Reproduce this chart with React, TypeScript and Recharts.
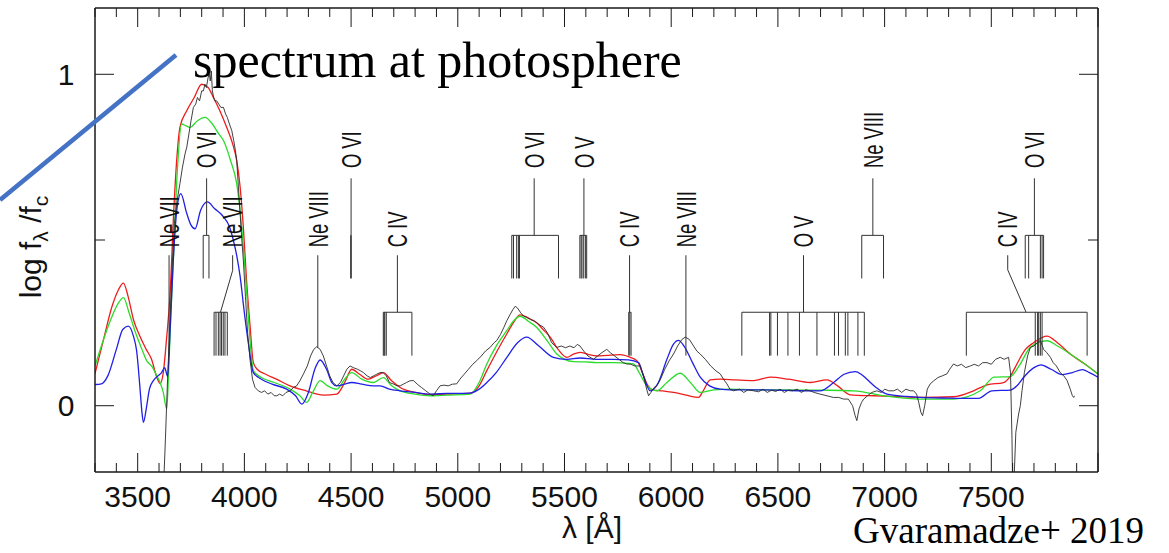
import React from 'react';
import { LineChart, Line, XAxis, YAxis, ReferenceLine, ReferenceDot } from 'recharts';

// ---------- data (wavelength [A], log f_lambda/f_c) ----------
const observed: number[][] = [
  [3618, -0.3], [3630, -0.1], [3640, 0.08], [3648, 0.2], [3660, 0.4], [3672, 0.55], [3685, 0.62], [3698, 0.67],
  [3710, 0.72], [3722, 0.76], [3730, 0.78], [3740, 0.82], [3750, 0.86], [3761, 0.9], [3772, 0.91], [3780, 0.93],
  [3790, 0.92], [3800, 0.95], [3808, 0.95], [3815, 0.97], [3822, 0.96], [3830, 0.99], [3836, 1.0], [3840, 0.98],
  [3845, 1.01], [3850, 0.95], [3856, 0.93], [3862, 0.92], [3870, 0.92], [3880, 0.91], [3890, 0.9], [3902, 0.9],
  [3912, 0.88], [3920, 0.87], [3930, 0.85], [3941, 0.83], [3950, 0.8], [3958, 0.77], [3964, 0.74], [3972, 0.66],
  [3980, 0.58], [3988, 0.5], [3995, 0.44], [4005, 0.33], [4015, 0.22], [4027, 0.136], [4038, 0.08], [4050, 0.055],
  [4065, 0.045], [4080, 0.04], [4095, 0.045], [4110, 0.035], [4125, 0.04], [4140, 0.03], [4152, 0.03], [4165, 0.035],
  [4180, 0.03], [4195, 0.04], [4214, 0.045], [4230, 0.055], [4245, 0.06], [4260, 0.075], [4277, 0.096], [4295, 0.12],
  [4310, 0.15], [4325, 0.17], [4339, 0.178], [4355, 0.17], [4370, 0.15], [4385, 0.12], [4400, 0.09], [4415, 0.07],
  [4433, 0.06], [4450, 0.07], [4465, 0.09], [4480, 0.11], [4495, 0.12], [4510, 0.115], [4530, 0.11], [4545, 0.105],
  [4558, 0.1], [4575, 0.09], [4590, 0.085], [4605, 0.09], [4620, 0.095], [4636, 0.1], [4650, 0.1], [4665, 0.09],
  [4680, 0.07], [4700, 0.065], [4715, 0.06], [4730, 0.06], [4745, 0.065], [4760, 0.07], [4775, 0.075], [4792, 0.076],
  [4810, 0.065], [4830, 0.055], [4850, 0.045], [4870, 0.035], [4885, 0.03], [4900, 0.045], [4917, 0.06], [4935, 0.062],
  [4955, 0.06], [4975, 0.065], [4995, 0.066], [5010, 0.08], [5030, 0.095], [5050, 0.11], [5070, 0.125], [5089, 0.136],
  [5110, 0.15], [5130, 0.165], [5150, 0.175], [5170, 0.19], [5183, 0.197], [5200, 0.215], [5215, 0.235], [5230, 0.257],
  [5245, 0.275], [5258, 0.29], [5269, 0.3], [5280, 0.295], [5295, 0.28], [5310, 0.27], [5323, 0.267], [5340, 0.26],
  [5360, 0.255], [5380, 0.245], [5402, 0.237], [5420, 0.22], [5440, 0.19], [5464, 0.176], [5485, 0.18], [5505, 0.175],
  [5525, 0.18], [5545, 0.175], [5560, 0.185], [5573, 0.18], [5590, 0.165], [5610, 0.15], [5636, 0.14], [5655, 0.15],
  [5675, 0.16], [5698, 0.17], [5715, 0.16], [5735, 0.15], [5755, 0.14], [5775, 0.13], [5792, 0.126], [5810, 0.125],
  [5830, 0.12], [5855, 0.12], [5870, 0.09], [5885, 0.05], [5894, 0.03], [5905, 0.04], [5920, 0.055], [5933, 0.06],
  [5950, 0.08], [5970, 0.11], [5990, 0.135], [6011, 0.156], [6030, 0.18], [6050, 0.2], [6066, 0.207], [6085, 0.2],
  [6105, 0.18], [6120, 0.165], [6136, 0.156], [6160, 0.14], [6185, 0.12], [6210, 0.105], [6230, 0.096], [6245, 0.08],
  [6261, 0.066], [6275, 0.05], [6292, 0.045], [6320, 0.05], [6340, 0.04], [6360, 0.048], [6386, 0.045], [6410, 0.042],
  [6430, 0.05], [6450, 0.04], [6470, 0.047], [6490, 0.043], [6510, 0.05], [6530, 0.04], [6550, 0.047], [6570, 0.045],
  [6590, 0.05], [6610, 0.04], [6630, 0.048], [6650, 0.045], [6670, 0.04], [6698, 0.035], [6730, 0.03], [6760, 0.025],
  [6785, 0.025], [6808, 0.02], [6830, 0.02], [6850, 0.0], [6862, -0.03], [6870, -0.045], [6880, -0.01], [6892, 0.01],
  [6902, 0.02], [6920, 0.03], [6940, 0.04], [6964, 0.045], [6985, 0.04], [7000, 0.05], [7020, 0.045], [7042, 0.045],
  [7060, 0.05], [7080, 0.04], [7100, 0.05], [7120, 0.045], [7136, 0.045], [7150, 0.035], [7160, 0.01], [7170, -0.02],
  [7178, -0.03], [7188, 0.0], [7200, 0.05], [7214, 0.066], [7230, 0.075], [7250, 0.085], [7270, 0.09], [7292, 0.096],
  [7305, 0.11], [7323, 0.126], [7340, 0.12], [7360, 0.125], [7380, 0.115], [7402, 0.12], [7420, 0.125], [7440, 0.12],
  [7460, 0.13], [7480, 0.13], [7500, 0.125], [7520, 0.14], [7542, 0.146], [7560, 0.14], [7581, 0.146], [7590, 0.1],
  [7597, -0.1], [7601, -0.3], [7608, -0.2], [7615, -0.08], [7628, -0.025], [7636, 0.0], [7644, 0.045], [7655, 0.1],
  [7670, 0.15], [7683, 0.176], [7700, 0.18], [7715, 0.19], [7730, 0.197], [7745, 0.17], [7760, 0.16], [7777, 0.146],
  [7790, 0.13], [7805, 0.12], [7823, 0.1], [7840, 0.09], [7855, 0.076], [7870, 0.05], [7880, 0.03], [7886, 0.025],
  [7890, 0.03],
];

const modelRed: number[][] = [
  [3300, 0.097], [3340, 0.2], [3380, 0.3], [3410, 0.35], [3433, 0.37], [3455, 0.33], [3480, 0.26], [3510, 0.21],
  [3540, 0.17], [3565, 0.14], [3590, 0.085], [3605, 0.067], [3620, 0.1], [3635, 0.2], [3652, 0.34], [3670, 0.6],
  [3685, 0.76], [3698, 0.84], [3730, 0.89], [3765, 0.93], [3800, 0.97], [3830, 0.96], [3855, 0.93], [3885, 0.89],
  [3917, 0.84], [3945, 0.79], [3964, 0.74], [3980, 0.66], [3995, 0.54], [4010, 0.38], [4027, 0.237], [4042, 0.13],
  [4060, 0.11], [4100, 0.095], [4150, 0.08], [4214, 0.06], [4290, 0.045], [4370, 0.032], [4433, 0.035], [4470, 0.07],
  [4503, 0.11], [4540, 0.095], [4580, 0.08], [4605, 0.086], [4636, 0.096], [4651, 0.1], [4690, 0.075], [4730, 0.055],
  [4800, 0.04], [4870, 0.033], [4950, 0.035], [5058, 0.038], [5100, 0.06], [5136, 0.106], [5180, 0.16], [5230, 0.217],
  [5260, 0.25], [5292, 0.274], [5330, 0.265], [5370, 0.25], [5400, 0.23], [5433, 0.207], [5470, 0.17], [5511, 0.146],
  [5540, 0.155], [5573, 0.161], [5610, 0.155], [5652, 0.15], [5700, 0.152], [5761, 0.154], [5800, 0.148], [5839, 0.136],
  [5865, 0.1], [5886, 0.066], [5917, 0.047], [5960, 0.045], [6011, 0.04], [6070, 0.032], [6128, 0.025], [6150, 0.045],
  [6183, 0.078], [6230, 0.08], [6300, 0.078], [6386, 0.076], [6464, 0.086], [6550, 0.08], [6652, 0.07], [6730, 0.078],
  [6780, 0.06], [6839, 0.033], [6950, 0.03], [7050, 0.028], [7167, 0.025], [7323, 0.027], [7417, 0.045], [7480, 0.063],
  [7558, 0.07], [7590, 0.09], [7620, 0.126], [7660, 0.17], [7698, 0.19], [7761, 0.21], [7810, 0.19], [7870, 0.156],
  [7940, 0.125], [8000, 0.096],
];

const modelGreen: number[][] = [
  [3300, 0.12], [3340, 0.2], [3380, 0.27], [3410, 0.31], [3433, 0.326], [3460, 0.28], [3490, 0.22], [3520, 0.17],
  [3542, 0.136], [3565, 0.12], [3590, 0.09], [3605, 0.07], [3620, 0.04], [3636, -0.01], [3645, 0.1], [3655, 0.27],
  [3667, 0.44], [3685, 0.7], [3706, 0.85], [3725, 0.845], [3745, 0.84], [3780, 0.86], [3816, 0.87], [3850, 0.85],
  [3880, 0.82], [3902, 0.8], [3935, 0.74], [3964, 0.67], [3990, 0.52], [4011, 0.34], [4030, 0.17], [4042, 0.106],
  [4080, 0.085], [4140, 0.07], [4214, 0.05], [4260, 0.03], [4292, 0.01], [4320, 0.04], [4355, 0.076], [4390, 0.06],
  [4433, 0.05], [4470, 0.08], [4503, 0.1], [4550, 0.08], [4605, 0.07], [4651, 0.085], [4690, 0.06], [4730, 0.045],
  [4800, 0.035], [4870, 0.03], [4950, 0.032], [5058, 0.035], [5100, 0.07], [5136, 0.126], [5180, 0.18], [5230, 0.227],
  [5260, 0.255], [5292, 0.27], [5330, 0.255], [5370, 0.236], [5420, 0.195], [5464, 0.156], [5500, 0.14], [5542, 0.133],
  [5600, 0.132], [5652, 0.13], [5730, 0.13], [5800, 0.128], [5823, 0.126], [5850, 0.1], [5886, 0.06], [5933, 0.045],
  [5980, 0.07], [6042, 0.098], [6090, 0.07], [6136, 0.04], [6200, 0.048], [6277, 0.05], [6400, 0.048], [6550, 0.048],
  [6698, 0.047], [6855, 0.045], [7000, 0.03], [7167, 0.02], [7323, 0.02], [7448, 0.045], [7490, 0.075], [7511, 0.086],
  [7589, 0.088], [7630, 0.12], [7683, 0.176], [7761, 0.196], [7810, 0.18], [7870, 0.156], [7940, 0.125], [8000, 0.096],
];

const modelBlue: number[][] = [
  [3300, 0.064], [3330, 0.066], [3360, 0.09], [3400, 0.17], [3430, 0.23], [3456, 0.24], [3480, 0.21], [3495, 0.166],
  [3510, 0.06], [3520, -0.02], [3527, -0.05], [3540, -0.01], [3555, 0.05], [3573, 0.075], [3595, 0.09], [3612, 0.1],
  [3627, 0.115], [3634, 0.1], [3640, 0.088], [3650, 0.2], [3667, 0.44], [3685, 0.6], [3702, 0.64], [3730, 0.58],
  [3750, 0.545], [3769, 0.534], [3795, 0.59], [3827, 0.615], [3860, 0.595], [3902, 0.57], [3930, 0.54], [3948, 0.5],
  [3965, 0.45], [3980, 0.39], [4000, 0.28], [4019, 0.187], [4042, 0.1], [4080, 0.08], [4130, 0.065], [4198, 0.05],
  [4240, 0.03], [4269, 0.005], [4300, 0.04], [4330, 0.11], [4355, 0.138], [4385, 0.11], [4410, 0.07], [4433, 0.06],
  [4470, 0.065], [4503, 0.07], [4550, 0.065], [4605, 0.06], [4636, 0.06], [4680, 0.05], [4730, 0.045], [4800, 0.04],
  [4870, 0.035], [4950, 0.037], [5058, 0.038], [5100, 0.05], [5136, 0.07], [5180, 0.1], [5230, 0.146], [5280, 0.19],
  [5323, 0.207], [5380, 0.18], [5448, 0.146], [5510, 0.14], [5573, 0.144], [5650, 0.14], [5730, 0.14], [5800, 0.138],
  [5847, 0.13], [5870, 0.09], [5902, 0.045], [5940, 0.07], [5980, 0.14], [6010, 0.185], [6034, 0.197], [6060, 0.18],
  [6100, 0.13], [6136, 0.086], [6180, 0.06], [6230, 0.05], [6277, 0.048], [6400, 0.048], [6550, 0.046], [6698, 0.045],
  [6761, 0.07], [6810, 0.095], [6863, 0.103], [6890, 0.095], [6917, 0.08], [6960, 0.055], [7011, 0.035], [7100, 0.028],
  [7167, 0.025], [7300, 0.023], [7440, 0.022], [7503, 0.045], [7589, 0.047], [7620, 0.06], [7652, 0.086], [7700, 0.115],
  [7733, 0.123], [7780, 0.11], [7833, 0.094], [7880, 0.1], [7927, 0.109], [7960, 0.1], [8000, 0.086],
];

// axis ticks
const xTicks: number[] = Array.from({ length: 48 }, (_, i) => 3300 + i * 100);
const xLabeled = [3500, 4000, 4500, 5000, 5500, 6000, 6500, 7000, 7500];
const yTicks = [0, 0.5, 1];
const yLabeled = [0, 1];

// line-identification levels (data units)
const LEVEL: Record<string, { text: number; top: number; bar: number; end: number }> = {
  A: { text: 0.717, top: 0.686, bar: 0.514, end: 0.384 },
  B: { text: 0.478, top: 0.454, bar: 0.282, end: 0.151 },
};

type LineId = { label: string; level: string; stem: number[][]; comps: number[] };
const lineIds: LineId[] = [
  { label: 'Ne VII', level: 'B', stem: [[3647, 0.454], [3647, 0.151]], comps: [] },
  { label: 'O VI', level: 'A', stem: [[3823, 0.686], [3823, 0.514]], comps: [3807, 3834] },
  { label: 'Ne VII', level: 'B', stem: [[3945, 0.454], [3945, 0.408], [3888, 0.282]], comps: [3858, 3867, 3878, 3886, 3893, 3901, 3909, 3920] },
  { label: 'Ne VIII', level: 'B', stem: [[4344, 0.454], [4344, 0.175]], comps: [] },
  { label: 'O VI', level: 'A', stem: [[4500, 0.686], [4500, 0.514]], comps: [4498, 4501] },
  { label: 'C IV', level: 'B', stem: [[4717, 0.454], [4717, 0.282]], comps: [4651, 4655, 4658, 4665, 4785] },
  { label: 'O VI', level: 'A', stem: [[5358, 0.686], [5358, 0.514]], comps: [5253, 5261, 5276, 5284, 5289, 5472] },
  { label: 'O V', level: 'A', stem: [[5591, 0.686], [5591, 0.514]], comps: [5572, 5578, 5582, 5590, 5598, 5604] },
  { label: 'C IV', level: 'B', stem: [[5805, 0.454], [5805, 0.282]], comps: [5801, 5806, 5812] },
  { label: 'Ne VIII', level: 'B', stem: [[6069, 0.454], [6069, 0.151]], comps: [] },
  { label: 'O V', level: 'B', stem: [[6620, 0.454], [6620, 0.282]], comps: [6331, 6461, 6467, 6498, 6547, 6601, 6683, 6765, 6784, 6816, 6828, 6875, 6905] },
  { label: 'Ne VIII', level: 'A', stem: [[6945, 0.686], [6945, 0.514]], comps: [6893, 6995] },
  { label: 'C IV', level: 'B', stem: [[7577, 0.454], [7577, 0.41], [7663, 0.282]], comps: [7383, 7706, 7717, 7722, 7730, 7738, 7949] },
  { label: 'O VI', level: 'A', stem: [[7702, 0.686], [7702, 0.514]], comps: [7659, 7675, 7730, 7738, 7745] },
];

// ---------- rendering ----------
const SANS = '"Liberation Sans", Arial, Helvetica, sans-serif';
const SERIF = '"Liberation Serif", "Times New Roman", serif';
const INK = '#1a1a1a';

const toPts = (a: number[][]) => a.map(([x, y]) => ({ x, y }));

const BottomTick = (props: any) => {
  const { x, y, payload } = props;
  const v = payload.value as number;
  const major = v % 500 === 0;
  return (
    <g>
      <line x1={x} x2={x} y1={y} y2={y - (major ? 19 : 9)} stroke={INK} strokeWidth={1} />
      {xLabeled.includes(v) && (
        <text x={x} y={y + 35} textAnchor="middle" fontSize={30} fontFamily={SANS} fill="#111">
          {v}
        </text>
      )}
    </g>
  );
};

const TopTick = (props: any) => {
  const { x, y, payload } = props;
  const major = (payload.value as number) % 500 === 0;
  return <line x1={x} x2={x} y1={y} y2={y + (major ? 19 : 9)} stroke={INK} strokeWidth={1} />;
};

const LeftTick = (props: any) => {
  const { x, y, payload } = props;
  const v = payload.value as number;
  const major = v === 0 || v === 1;
  return (
    <g>
      <line x1={x} x2={x + (major ? 19 : 10)} y1={y} y2={y} stroke={INK} strokeWidth={1} />
      {yLabeled.includes(v) && (
        <text x={x - 29} y={y + 10.7} textAnchor="middle" fontSize={30} fontFamily={SANS} fill="#111">
          {v}
        </text>
      )}
    </g>
  );
};

const RightTick = (props: any) => {
  const { x, y, payload } = props;
  const v = payload.value as number;
  const major = v === 0 || v === 1;
  return <line x1={x} x2={x - (major ? 19 : 10)} y1={y} y2={y} stroke={INK} strokeWidth={1} />;
};

const makeLabel = (text: string) => (p: any) => (
  <text
    transform={`translate(${p.cx},${p.cy}) rotate(-90) scale(0.68,1)`}
    x={0}
    y={0}
    dy="0.36em"
    textAnchor="start"
    fontSize={27}
    fontFamily={SANS}
    fill="#111"
  >
    {text}
  </text>
);

const annoStroke = '#333';

function buildAnnotations() {
  const els: React.ReactElement[] = [];
  lineIds.forEach((id, i) => {
    const lv = LEVEL[id.level];
    for (let k = 0; k < id.stem.length - 1; k++) {
      els.push(
        <ReferenceLine
          key={`s${i}-${k}`}
          xAxisId="b"
          yAxisId="l"
          ifOverflow="visible"
          segment={[
            { x: id.stem[k][0], y: id.stem[k][1] },
            { x: id.stem[k + 1][0], y: id.stem[k + 1][1] },
          ]}
          stroke={annoStroke}
          strokeWidth={1}
        />
      );
    }
    if (id.comps.length > 1) {
      const lo = Math.min(...id.comps);
      const hi = Math.max(...id.comps);
      els.push(
        <ReferenceLine
          key={`bar${i}`}
          xAxisId="b"
          yAxisId="l"
          ifOverflow="visible"
          segment={[{ x: lo, y: lv.bar }, { x: hi, y: lv.bar }]}
          stroke={annoStroke}
          strokeWidth={1}
        />
      );
    }
    id.comps.forEach((c, j) => {
      els.push(
        <ReferenceLine
          key={`c${i}-${j}`}
          xAxisId="b"
          yAxisId="l"
          ifOverflow="visible"
          segment={[{ x: c, y: lv.bar }, { x: c, y: lv.end }]}
          stroke={annoStroke}
          strokeWidth={1}
        />
      );
    });
    els.push(
      <ReferenceDot
        key={`t${i}`}
        xAxisId="b"
        yAxisId="l"
        x={id.stem[0][0]}
        y={lv.text}
        r={0}
        ifOverflow="visible"
        shape={makeLabel(id.label)}
      />
    );
  });
  return els;
}

export default function App() {
  return (
    <div style={{ position: 'absolute', left: 0, top: 0, width: 1169, height: 553, background: '#fff' }}>
      <LineChart width={1169} height={553} margin={{ top: 0, right: 0, bottom: 0, left: 0 }}>
        <XAxis
          xAxisId="b"
          dataKey="x"
          type="number"
          orientation="bottom"
          domain={[3300, 8000]}
          allowDataOverflow
          ticks={xTicks}
          interval={0}
          height={81}
          tickSize={0}
          tickMargin={0}
          tickLine={false}
          axisLine={{ stroke: INK, strokeWidth: 1.5 }}
          tick={<BottomTick />}
        />
        <XAxis
          xAxisId="t"
          dataKey="x"
          type="number"
          orientation="top"
          domain={[3300, 8000]}
          allowDataOverflow
          ticks={xTicks}
          interval={0}
          height={8}
          tickSize={0}
          tickMargin={0}
          tickLine={false}
          axisLine={{ stroke: INK, strokeWidth: 1.5 }}
          tick={<TopTick />}
        />
        <YAxis
          yAxisId="l"
          type="number"
          orientation="left"
          domain={[-0.2, 1.2]}
          allowDataOverflow
          ticks={yTicks}
          interval={0}
          width={95}
          tickSize={0}
          tickMargin={0}
          tickLine={false}
          axisLine={{ stroke: INK, strokeWidth: 1.5 }}
          tick={<LeftTick />}
        />
        <YAxis
          yAxisId="r"
          type="number"
          orientation="right"
          domain={[-0.2, 1.2]}
          allowDataOverflow
          ticks={yTicks}
          interval={0}
          width={71}
          tickSize={0}
          tickMargin={0}
          tickLine={false}
          axisLine={{ stroke: INK, strokeWidth: 1.5 }}
          tick={<RightTick />}
        />
        <Line data={toPts(modelRed)} dataKey="y" xAxisId="b" yAxisId="l" type="monotone" stroke="#ee1c1c" strokeWidth={1.3} dot={false} isAnimationActive={false} />
        <Line data={toPts(modelGreen)} dataKey="y" xAxisId="b" yAxisId="l" type="monotone" stroke="#2bdc2b" strokeWidth={1.3} dot={false} isAnimationActive={false} />
        <Line data={toPts(modelBlue)} dataKey="y" xAxisId="b" yAxisId="l" type="monotone" stroke="#1f1fe6" strokeWidth={1.3} dot={false} isAnimationActive={false} />
        <Line data={toPts(observed)} dataKey="y" xAxisId="b" yAxisId="l" type="linear" stroke="#2a2a2a" strokeWidth={0.9} dot={false} isAnimationActive={false} />
        {buildAnnotations()}
      </LineChart>
      <svg width={1169} height={553} style={{ position: 'absolute', left: 0, top: 0, pointerEvents: 'none' }}>
        <line x1={0} y1={200} x2={176} y2={55} stroke="#4472c4" strokeWidth={4.5} />
        <text x={193} y={77} fontSize={50} fontFamily={SERIF} fill="#000">spectrum at photosphere</text>
        <text x={853} y={543} fontSize={37} fontFamily={SERIF} fill="#000">Gvaramadze+ 2019</text>
        <text x={592} y={538} textAnchor="middle" fontSize={30} fontFamily={SANS} fill="#111">λ [Å]</text>
        <text transform="translate(41,247) rotate(-90)" textAnchor="middle" fontSize={30} fontFamily={SANS} fill="#111">
          log f<tspan fontSize={21} dy={7}>λ</tspan>
          <tspan dy={-7}> /f</tspan>
          <tspan fontSize={21} dy={7}>c</tspan>
        </text>
      </svg>
    </div>
  );
}
